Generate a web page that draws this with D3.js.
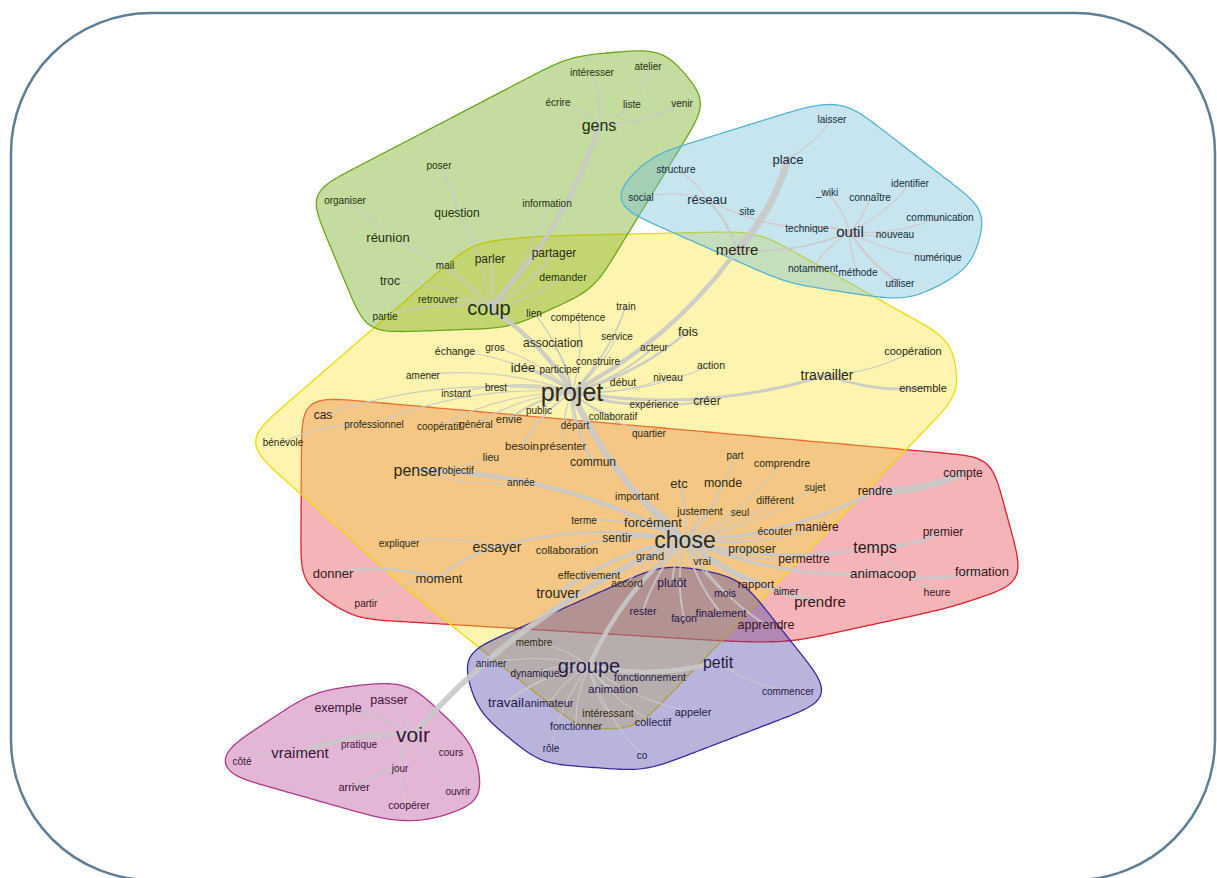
<!DOCTYPE html>
<html>
<head>
<meta charset="utf-8">
<script src="https://cdn.jsdelivr.net/npm/d3@7"></script>
<style>
  body { margin: 0; background: #fff; }
  svg { display: block; }
  text { font-family: "Liberation Sans", Arial, sans-serif; }
</style>
</head>
<body>
<svg width="1217" height="878"></svg>
<script>
// words per community: [label, layout x, layout y, frequency]
const greenWords = [
  ["intéresser", 59.2, 7.2, 10], ["atelier", 64.8, 6.6, 10], ["écrire", 55.8, 10.2, 10],
  ["liste", 63.2, 10.4, 10], ["venir", 68.2, 10.3, 10], ["gens", 59.9, 12.5, 70],
  ["poser", 43.9, 16.5, 10], ["organiser", 34.5, 20.0, 10], ["information", 54.7, 20.3, 10],
  ["question", 45.7, 21.3, 30], ["réunion", 38.8, 23.7, 40], ["mail", 44.5, 26.5, 10],
  ["demander", 56.3, 27.7, 15], ["troc", 39.0, 28.1, 30], ["retrouver", 43.8, 29.9, 10],
  ["coup", 48.9, 30.8, 110], ["partie", 38.5, 31.6, 10]
];
const blueWords = [
  ["laisser", 83.2, 11.9, 10], ["place", 78.8, 15.9, 40], ["structure", 67.6, 16.9, 10],
  ["social", 64.1, 19.7, 10], ["réseau", 70.7, 19.9, 40], ["_wiki", 82.7, 19.2, 10],
  ["connaître", 87.0, 19.7, 10], ["identifier", 91.0, 18.3, 10], ["site", 74.7, 21.1, 10],
  ["communication", 94.0, 21.7, 10], ["technique", 80.7, 22.8, 10], ["outil", 85.0, 23.2, 60],
  ["nouveau", 89.5, 23.4, 10], ["numérique", 93.8, 25.7, 10], ["notamment", 81.3, 26.8, 10],
  ["méthode", 85.8, 27.2, 10], ["utiliser", 90.0, 28.3, 10]
];
const yellowWords = [
  ["parler", 49.0, 25.9, 30], ["partager", 55.4, 25.3, 30], ["lien", 53.4, 31.3, 10],
  ["train", 62.6, 30.6, 10], ["compétence", 57.8, 31.7, 10], ["mettre", 73.7, 25.0, 60],
  ["service", 61.7, 33.6, 10], ["fois", 68.8, 33.1, 40], ["association", 55.3, 34.3, 30],
  ["échange", 45.5, 35.1, 15], ["gros", 49.5, 34.7, 10], ["acteur", 65.4, 34.7, 10],
  ["construire", 59.8, 36.1, 10], ["coopération", 91.3, 35.1, 20], ["action", 71.1, 36.5, 15],
  ["idée", 52.3, 36.7, 40], ["participer", 56.0, 36.9, 10], ["amener", 42.3, 37.5, 10],
  ["niveau", 66.8, 37.7, 10], ["début", 62.3, 38.2, 15], ["travailler", 82.7, 37.5, 50],
  ["ensemble", 92.3, 38.8, 20], ["projet", 57.2, 39.2, 160], ["instant", 45.6, 39.3, 10],
  ["brest", 49.6, 38.7, 10], ["expérience", 65.4, 40.4, 10], ["créer", 70.7, 40.1, 30],
  ["public", 53.9, 41.0, 10], ["collaboratif", 61.3, 41.6, 10], ["bénévole", 28.3, 44.2, 10],
  ["professionnel", 37.4, 42.4, 10], ["coopératif", 43.9, 42.6, 10], ["général", 47.6, 42.4, 10],
  ["envie", 50.9, 41.9, 20], ["départ", 57.5, 42.5, 10], ["quartier", 64.9, 43.3, 10],
  ["besoin", 52.2, 44.6, 25], ["présenter", 56.3, 44.6, 20], ["lieu", 49.1, 45.7, 15],
  ["commun", 59.3, 46.2, 30], ["penser", 41.8, 47.0, 70], ["objectif", 45.8, 47.0, 10],
  ["année", 52.1, 48.2, 10], ["etc", 67.9, 48.3, 40], ["monde", 72.3, 48.3, 35],
  ["part", 73.5, 45.5, 10], ["comprendre", 78.2, 46.3, 15], ["important", 63.7, 49.6, 15],
  ["sujet", 81.5, 48.7, 10], ["différent", 77.5, 50.0, 15], ["justement", 70.0, 51.1, 15],
  ["seul", 74.0, 51.2, 10], ["terme", 58.4, 52.0, 10], ["forcément", 65.3, 52.2, 40],
  ["écouter", 77.5, 53.1, 15], ["expliquer", 39.9, 54.3, 10], ["essayer", 49.7, 54.7, 50],
  ["sentir", 61.7, 53.8, 30], ["chose", 68.5, 54.0, 140], ["collaboration", 56.7, 55.0, 20],
  ["grand", 65.0, 55.6, 20], ["proposer", 75.2, 54.9, 30], ["vrai", 70.2, 56.1, 20],
  ["moment", 43.9, 57.8, 40], ["effectivement", 58.9, 57.5, 15], ["accord", 62.7, 58.3, 15],
  ["trouver", 55.8, 59.3, 50], ["membre", 53.4, 64.2, 10], ["intéressant", 60.8, 71.3, 15]
];
const redWords = [
  ["cas", 32.3, 41.5, 30], ["donner", 33.3, 57.3, 40], ["partir", 36.6, 60.3, 10],
  ["compte", 96.3, 47.3, 30], ["rendre", 87.5, 49.1, 30], ["manière", 81.7, 52.7, 30],
  ["premier", 94.3, 53.2, 30], ["temps", 87.5, 54.7, 70], ["permettre", 80.4, 55.9, 30],
  ["animacoop", 88.3, 57.3, 45], ["formation", 98.2, 57.1, 40], ["rapport", 75.6, 58.4, 25],
  ["aimer", 78.6, 59.1, 10], ["heure", 93.7, 59.2, 15], ["prendre", 82.0, 60.2, 60],
  ["apprendre", 76.6, 62.5, 35]
];
const purpleWords = [
  ["plutôt", 67.2, 58.3, 30], ["mois", 72.5, 59.3, 15], ["rester", 64.3, 61.1, 15],
  ["façon", 68.4, 61.8, 15], ["finalement", 72.1, 61.3, 20], ["animer", 49.1, 66.3, 10],
  ["dynamique", 53.5, 67.3, 10], ["groupe", 58.9, 66.6, 110], ["petit", 71.8, 66.2, 70],
  ["fonctionnement", 65.0, 67.7, 15], ["animation", 61.3, 68.9, 25], ["commencer", 78.8, 69.1, 10],
  ["travail", 50.6, 70.2, 45], ["animateur", 54.9, 70.3, 20], ["appeler", 69.3, 71.2, 20],
  ["collectif", 65.3, 72.2, 20], ["fonctionner", 57.6, 72.6, 15], ["rôle", 55.1, 74.8, 10],
  ["co", 64.2, 75.5, 10]
];
const pinkWords = [
  ["passer", 38.9, 70.0, 35], ["exemple", 33.8, 70.8, 35], ["voir", 41.3, 73.5, 120],
  ["pratique", 35.9, 74.4, 10], ["vraiment", 30.0, 75.3, 60], ["côté", 24.2, 76.1, 10],
  ["cours", 45.1, 75.2, 10], ["jour", 40.0, 76.8, 10], ["arriver", 35.4, 78.7, 20],
  ["ouvrir", 45.8, 79.1, 10], ["coopérer", 40.9, 80.5, 15]
];

// co-occurrence links: [from, to, strength]
const edges = [
  ["projet", "chose", 9], ["projet", "coup", 6], ["coup", "gens", 6], ["projet", "mettre", 6],
  ["mettre", "place", 10], ["chose", "voir", 8], ["voir", "vraiment", 6], ["chose", "groupe", 6],
  ["groupe", "petit", 6], ["chose", "penser", 6], ["chose", "trouver", 5], ["chose", "prendre", 6],
  ["chose", "temps", 4], ["chose", "rendre", 4], ["rendre", "compte", 10], ["temps", "premier", 4],
  ["chose", "animacoop", 4], ["animacoop", "formation", 4], ["projet", "travailler", 4],
  ["travailler", "ensemble", 3], ["travailler", "coopération", 1], ["projet", "fois", 3],
  ["projet", "idée", 2], ["projet", "association", 2], ["projet", "construire", 2], ["projet", "acteur", 2],
  ["projet", "action", 1], ["projet", "niveau", 1], ["projet", "créer", 2], ["projet", "service", 1],
  ["projet", "train", 2], ["projet", "compétence", 1], ["projet", "participer", 1], ["projet", "début", 1],
  ["projet", "expérience", 1], ["projet", "public", 1], ["projet", "collaboratif", 2], ["projet", "départ", 1],
  ["projet", "quartier", 1], ["projet", "envie", 2], ["projet", "besoin", 2], ["projet", "présenter", 1],
  ["projet", "gros", 1], ["projet", "échange", 1], ["projet", "brest", 1], ["projet", "instant", 1],
  ["projet", "amener", 1], ["projet", "général", 1], ["projet", "coopératif", 1], ["projet", "professionnel", 1],
  ["professionnel", "bénévole", 1], ["projet", "cas", 1], ["projet", "lien", 1], ["projet", "commun", 3],
  ["coup", "parler", 2], ["coup", "partager", 2], ["coup", "demander", 1], ["coup", "question", 1],
  ["question", "poser", 2], ["coup", "réunion", 1], ["réunion", "organiser", 1], ["coup", "troc", 1],
  ["coup", "mail", 1], ["coup", "retrouver", 1], ["coup", "partie", 1], ["coup", "information", 1],
  ["gens", "écrire", 1], ["gens", "liste", 1], ["gens", "intéresser", 1], ["gens", "venir", 2], ["liste", "atelier", 1],
  ["mettre", "réseau", 2], ["réseau", "social", 1], ["réseau", "structure", 1], ["mettre", "outil", 2],
  ["réseau", "technique", 1], ["outil", "technique", 2], ["outil", "connaître", 1], ["outil", "identifier", 1],
  ["outil", "communication", 1], ["outil", "nouveau", 1], ["outil", "numérique", 1], ["outil", "notamment", 1],
  ["outil", "méthode", 1], ["outil", "utiliser", 2], ["outil", "_wiki", 1], ["place", "laisser", 1],
  ["chose", "etc", 2], ["chose", "monde", 2], ["chose", "important", 2], ["chose", "justement", 2],
  ["chose", "seul", 1], ["chose", "forcément", 3], ["chose", "sentir", 3], ["chose", "grand", 2],
  ["chose", "vrai", 2], ["chose", "proposer", 2], ["chose", "écouter", 1], ["chose", "manière", 2],
  ["chose", "permettre", 2], ["chose", "différent", 1], ["chose", "sujet", 1], ["chose", "comprendre", 1],
  ["chose", "part", 1], ["chose", "terme", 2], ["chose", "collaboration", 2], ["chose", "effectivement", 2],
  ["chose", "accord", 1], ["chose", "plutôt", 2], ["chose", "rapport", 2], ["chose", "aimer", 1],
  ["chose", "mois", 1], ["chose", "finalement", 2], ["chose", "façon", 2], ["chose", "rester", 2],
  ["chose", "apprendre", 2], ["chose", "essayer", 3], ["essayer", "moment", 3], ["moment", "donner", 3],
  ["moment", "partir", 1], ["essayer", "expliquer", 1], ["temps", "heure", 1], ["penser", "objectif", 1],
  ["penser", "lieu", 1], ["penser", "année", 1],
  ["groupe", "membre", 1], ["groupe", "animer", 1], ["groupe", "dynamique", 1], ["groupe", "animation", 2],
  ["groupe", "travail", 2], ["groupe", "animateur", 1], ["groupe", "intéressant", 1], ["groupe", "fonctionner", 1],
  ["groupe", "rôle", 1], ["groupe", "co", 1], ["groupe", "collectif", 1], ["groupe", "appeler", 1],
  ["petit", "commencer", 1],
  ["voir", "passer", 1], ["voir", "exemple", 2], ["voir", "pratique", 1], ["vraiment", "côté", 1],
  ["voir", "cours", 1], ["voir", "jour", 2], ["jour", "arriver", 2], ["voir", "ouvrir", 1], ["jour", "coopérer", 1]
];

// halo order = drawing order
const communities = [
  { key: "red", words: redWords, fill: "#e3434d", stroke: "#e0202a", text: "#3a1418" },
  { key: "yellow", words: yellowWords, fill: "#f7e337", stroke: "#eedc00", text: "#2e2a10" },
  { key: "green", words: greenWords, fill: "#6ea711", stroke: "#6aa81a", text: "#22320c" },
  { key: "blue", words: blueWords, fill: "#70bed4", stroke: "#55b4d2", text: "#142c3c" },
  { key: "purple", words: purpleWords, fill: "#5043a7", stroke: "#3a2c9a", text: "#24184a" },
  { key: "pink", words: pinkWords, fill: "#bb4898", stroke: "#b03a8a", text: "#3a1238" }
];

const width = 1217, height = 878;
const svg = d3.select("svg");

const x = d3.scaleLinear().domain([0, 121.7]).range([0, width]);
const y = d3.scaleLinear().domain([0, 87.8]).range([0, height]);
const fontSize = d3.scaleLinear().domain([10, 160]).range([10, 25]);
const edgeWidth = d3.scaleLinear().domain([1, 10]).range([1.2, 7]);

const nodes = [];
communities.forEach(c => {
  c.words.forEach(([name, lx, ly, freq]) => {
    nodes.push({ name, x: x(lx), y: y(ly), size: fontSize(freq), community: c });
  });
});
const byName = new Map(nodes.map(d => [d.name, d]));

// outer frame
svg.append("rect")
  .attr("x", 11).attr("y", 13)
  .attr("width", 1204).attr("height", 867)
  .attr("rx", 140).attr("ry", 140)
  .attr("fill", "none")
  .attr("stroke", "#5f7e98")
  .attr("stroke-width", 2.5);

const gHulls = svg.append("g").attr("class", "hulls");
const gEdges = svg.append("g").attr("class", "edges");
const gLabels = svg.append("g").attr("class", "labels");

const labels = gLabels.selectAll("text")
  .data(nodes)
  .enter()
  .append("text")
  .attr("x", d => d.x)
  .attr("y", d => d.y)
  .attr("dy", "0.35em")
  .attr("text-anchor", "middle")
  .attr("font-size", d => d.size)
  .attr("fill", d => d.community.text)
  .text(d => d.name);

labels.each(function (d) {
  d.w = this.getComputedTextLength();
  d.h = d.size * 0.8;
});

// edges, gently curved like igraph
function edgePath(s, t) {
  const dx = t.x - s.x, dy = t.y - s.y;
  const k = 0.12;
  const cx = (s.x + t.x) / 2 - dy * k;
  const cy = (s.y + t.y) / 2 + dx * k;
  return `M${s.x},${s.y}Q${cx},${cy} ${t.x},${t.y}`;
}

gEdges.selectAll("path")
  .data(edges.filter(e => byName.has(e[0]) && byName.has(e[1])))
  .enter()
  .append("path")
  .attr("d", e => edgePath(byName.get(e[0]), byName.get(e[1])))
  .attr("fill", "none")
  .attr("stroke", e => byName.get(e[0]).community.key === "blue" || (e[0] === "outil") ? "#d9c2c2" : "#c9c9c9")
  .attr("stroke-opacity", 0.9)
  .attr("stroke-width", e => edgeWidth(e[2]))
  .attr("stroke-linecap", "round");

// halos: hull of the label boxes, then resampled and smoothed
const inset = 4, radius = 16;
function halo(members) {
  const pts = [];
  members.forEach(d => {
    const ix = Math.min(inset, d.w / 2), iy = Math.min(inset, d.h / 2);
    const x0 = d.x - d.w / 2 + ix, x1 = d.x + d.w / 2 - ix;
    const y0 = d.y - d.h / 2 + iy, y1 = d.y + d.h / 2 - iy;
    [[x0, y0], [x1, y0], [x1, y1], [x0, y1]].forEach(([cx, cy]) => {
      for (let k = 0; k < 24; k++) {
        const a = k / 24 * 2 * Math.PI;
        pts.push([cx + radius * Math.cos(a), cy + radius * Math.sin(a)]);
      }
    });
  });
  const hull = d3.polygonHull(pts);
  // resample perimeter every ~3px
  const dense = [];
  for (let i = 0; i < hull.length; i++) {
    const a = hull[i], b = hull[(i + 1) % hull.length];
    const n = Math.max(1, Math.ceil(Math.hypot(b[0] - a[0], b[1] - a[1]) / 3));
    for (let j = 0; j < n; j++) {
      dense.push([a[0] + (b[0] - a[0]) * j / n, a[1] + (b[1] - a[1]) * j / n]);
    }
  }
  // circular moving average to round the corners
  let cur = dense;
  for (let pass = 0; pass < 2; pass++) {
    const win = 7, n = cur.length;
    cur = cur.map((_, i) => {
      let sx = 0, sy = 0;
      for (let k = -win; k <= win; k++) {
        const p = cur[(i + k + n) % n];
        sx += p[0]; sy += p[1];
      }
      return [sx / (2 * win + 1), sy / (2 * win + 1)];
    });
  }
  return cur;
}

const hullLine = d3.line().curve(d3.curveLinearClosed);

gHulls.selectAll("path")
  .data(communities)
  .enter()
  .append("path")
  .attr("d", c => hullLine(halo(nodes.filter(d => d.community === c))))
  .attr("fill", c => c.fill)
  .attr("fill-opacity", 0.4)
  .attr("stroke", c => c.stroke)
  .attr("stroke-width", 1.3);
</script>
</body>
</html>
